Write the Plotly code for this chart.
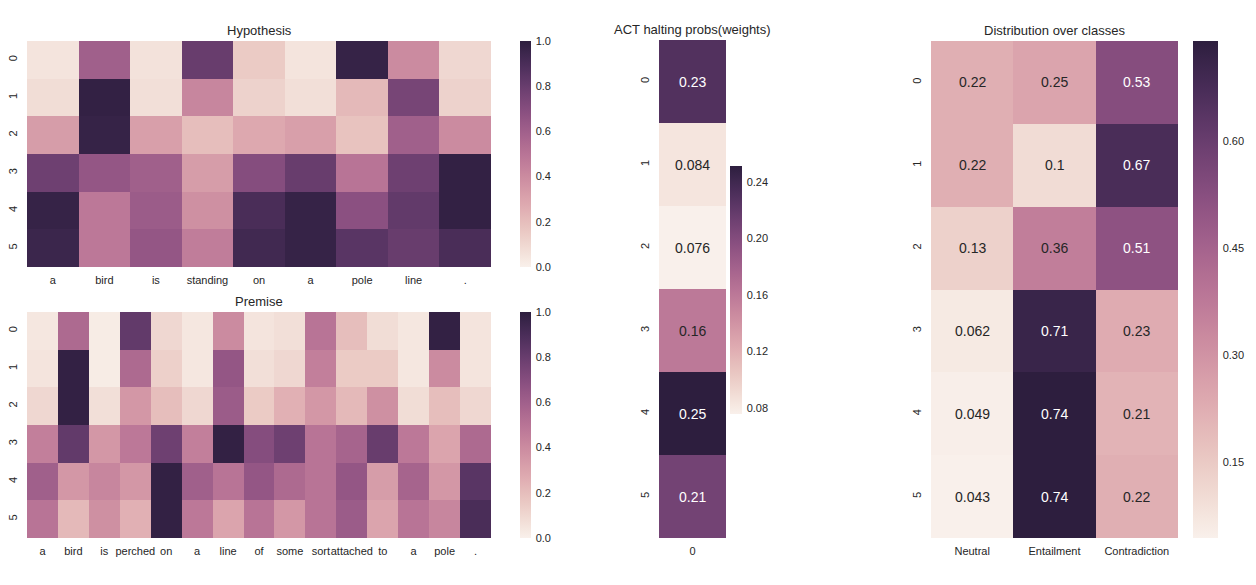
from __future__ import annotations

import colorsys

import numpy as np
import plotly.graph_objects as go

# the page body has an 8px margin, so the figure is drawn 8px in from the corner
OFF = 8
W, H = 1256 - OFF, 585 - 2 * OFF

hyp_words = ["a", "bird", "is", "standing", "on", "a", "pole", "line", "."]
hyp_weights = [
    [0.05, 0.60, 0.06, 0.80, 0.15, 0.05, 0.97, 0.40, 0.10],
    [0.08, 0.98, 0.07, 0.42, 0.12, 0.07, 0.22, 0.75, 0.12],
    [0.33, 0.97, 0.32, 0.20, 0.28, 0.32, 0.18, 0.60, 0.40],
    [0.78, 0.65, 0.60, 0.33, 0.70, 0.80, 0.50, 0.78, 0.98],
    [0.97, 0.48, 0.62, 0.38, 0.90, 0.97, 0.68, 0.82, 0.98],
    [0.95, 0.48, 0.65, 0.46, 0.93, 0.97, 0.85, 0.80, 0.90],
]

prem_words = ["a", "bird", "is", "perched", "on", "a", "line", "of", "some",
              "sort", "attached", "to", "a", "pole", "."]
prem_weights = [
    [0.04, 0.55, 0.02, 0.82, 0.10, 0.04, 0.40, 0.05, 0.07, 0.50, 0.20, 0.08, 0.04, 0.98, 0.05],
    [0.05, 0.98, 0.02, 0.55, 0.13, 0.04, 0.65, 0.07, 0.10, 0.45, 0.15, 0.15, 0.04, 0.40, 0.05],
    [0.10, 0.98, 0.07, 0.35, 0.20, 0.10, 0.62, 0.15, 0.25, 0.35, 0.22, 0.38, 0.08, 0.20, 0.10],
    [0.45, 0.82, 0.35, 0.48, 0.78, 0.45, 0.98, 0.70, 0.78, 0.50, 0.58, 0.80, 0.48, 0.30, 0.55],
    [0.60, 0.35, 0.42, 0.35, 0.98, 0.60, 0.50, 0.65, 0.55, 0.50, 0.65, 0.33, 0.58, 0.35, 0.85],
    [0.50, 0.22, 0.38, 0.25, 0.98, 0.48, 0.30, 0.50, 0.35, 0.50, 0.62, 0.30, 0.50, 0.42, 0.90],
]

act_probs = [0.229, 0.084, 0.0758, 0.16, 0.2513, 0.21]

classes = ["Neutral", "Entailment", "Contradiction"]
class_dist = [
    [0.22, 0.25, 0.53],
    [0.22, 0.10, 0.67],
    [0.13, 0.36, 0.51],
    [0.062, 0.71, 0.23],
    [0.049, 0.74, 0.21],
    [0.043, 0.74, 0.22],
]

steps = ["0", "1", "2", "3", "4", "5"]

FONT = "Liberation Sans, Arial, sans-serif"
DARK = "#262626"


def _cubehelix(t: np.ndarray) -> np.ndarray:
    # seaborn cubehelix_palette(light=.95, dark=.15) as a colormap
    x = 0.95 - 0.8 * np.asarray(t, dtype=float)
    phi = 2 * np.pi * (0.4 * x)
    a = 0.8 * x * (1 - x) / 2
    r = x + a * (-0.14861 * np.cos(phi) + 1.78277 * np.sin(phi))
    g = x + a * (-0.29227 * np.cos(phi) - 0.90649 * np.sin(phi))
    b = x + a * (1.97294 * np.cos(phi))
    return np.clip(np.stack([r, g, b], axis=-1), 0, 1)


_ts = np.linspace(0, 1, 33)
COLORSCALE = [[float(t), "rgb(%d,%d,%d)" % tuple((c * 255).round())] for t, c in zip(_ts, _cubehelix(_ts))]


def _text_color(t: float) -> str:
    r, g, b = _cubehelix(t)
    _, light, _ = colorsys.rgb_to_hls(r, g, b)
    return DARK if light > 0.5 else "white"


def _fmt(v: float) -> str:
    return f"{v:.2g}"


def px_x(p: float) -> float:
    return (p - OFF) / W


def px_y(p: float) -> float:
    return 1 - (p - OFF) / H


panels = [
    dict(title="Hypothesis", z=np.array(hyp_weights), x=hyp_words, box=(27, 41, 491, 267),
         cb=(520, 41, 267, 11), zr=(0.0, 1.0), tickvals=[0, 0.2, 0.4, 0.6, 0.8, 1.0], fmt=".1f", annot=False),
    dict(title="Premise", z=np.array(prem_weights), x=prem_words, box=(27, 312, 491, 538),
         cb=(520, 312, 538, 11), zr=(0.0, 1.0), tickvals=[0, 0.2, 0.4, 0.6, 0.8, 1.0], fmt=".1f", annot=False),
    dict(title="ACT halting probs(weights)", z=np.array(act_probs)[:, None], x=["0"], box=(659, 40, 726, 538),
         cb=(730, 166, 414, 12), zr=(min(act_probs), max(act_probs)),
         tickvals=[0.08, 0.12, 0.16, 0.20, 0.24], fmt=".2f", annot=True),
    dict(title="Distribution over classes", z=np.array(class_dist), x=classes, box=(931, 41, 1178, 538),
         cb=(1193, 41, 538, 25), zr=(float(np.min(class_dist)), float(np.max(class_dist))),
         tickvals=[0.15, 0.30, 0.45, 0.60], fmt=".2f", annot=True),
]

fig = go.Figure()
layout = dict(
    width=W, height=H, margin=dict(l=0, r=0, t=0, b=0),
    paper_bgcolor="white", plot_bgcolor="white",
    font=dict(family=FONT, color=DARK, size=11),
    showlegend=False,
)
annotations = []

for i, p in enumerate(panels, start=1):
    sfx = "" if i == 1 else str(i)
    l, t, r, b = p["box"]
    z = p["z"]
    ncol = z.shape[1]
    xs = list(range(ncol))
    ys = list(range(z.shape[0]))
    cx, ct, cbot, thick = p["cb"]
    fig.add_trace(go.Heatmap(
        z=z, x=xs, y=ys, xaxis="x" + sfx, yaxis="y" + sfx,
        colorscale=COLORSCALE, zmin=p["zr"][0], zmax=p["zr"][1],
        hoverinfo="z",
        colorbar=dict(
            x=px_x(cx), xanchor="left", xpad=0, ypad=0,
            y=px_y(ct), yanchor="top", lenmode="pixels", len=cbot - ct,
            thickness=thick, outlinewidth=0,
            ticks="outside", ticklen=3, tickcolor="rgba(0,0,0,0)",
            tickvals=p["tickvals"], tickformat=p["fmt"],
            tickfont=dict(size=11, color=DARK, family=FONT),
        ),
    ))
    layout["xaxis" + sfx] = dict(
        domain=[px_x(l), px_x(r)], anchor="y" + sfx, range=[-0.5, ncol - 0.5],
        tickvals=xs, ticktext=p["x"], tickangle=0, showgrid=False, zeroline=False,
        showline=False, ticks="", ticklabelstandoff=5,
        tickfont=dict(size=11, color=DARK), fixedrange=True,
    )
    layout["yaxis" + sfx] = dict(
        domain=[px_y(b), px_y(t)], anchor="x" + sfx, range=[z.shape[0] - 0.5, -0.5],
        tickvals=ys, ticktext=steps, tickangle=-90, showgrid=False, zeroline=False,
        showline=False, ticks="", ticklabelstandoff=7,
        tickfont=dict(size=11, color=DARK), fixedrange=True,
    )
    annotations.append(dict(
        text=p["title"], xref="paper", yref="paper", x=px_x((l + r) / 2), y=px_y(t),
        xanchor="center", yanchor="bottom", yshift=1, showarrow=False,
        font=dict(size=13, color=DARK, family=FONT),
    ))
    if p["annot"]:
        lo, hi = p["zr"]
        for ri in range(z.shape[0]):
            for ci in range(ncol):
                v = float(z[ri, ci])
                annotations.append(dict(
                    text=_fmt(v), x=ci, y=ri, xref="x" + sfx, yref="y" + sfx, showarrow=False,
                    font=dict(size=14, color=_text_color((v - lo) / (hi - lo)), family=FONT),
                ))

layout["annotations"] = annotations
fig.update_layout(**layout)
fig.write_html("out.html")
